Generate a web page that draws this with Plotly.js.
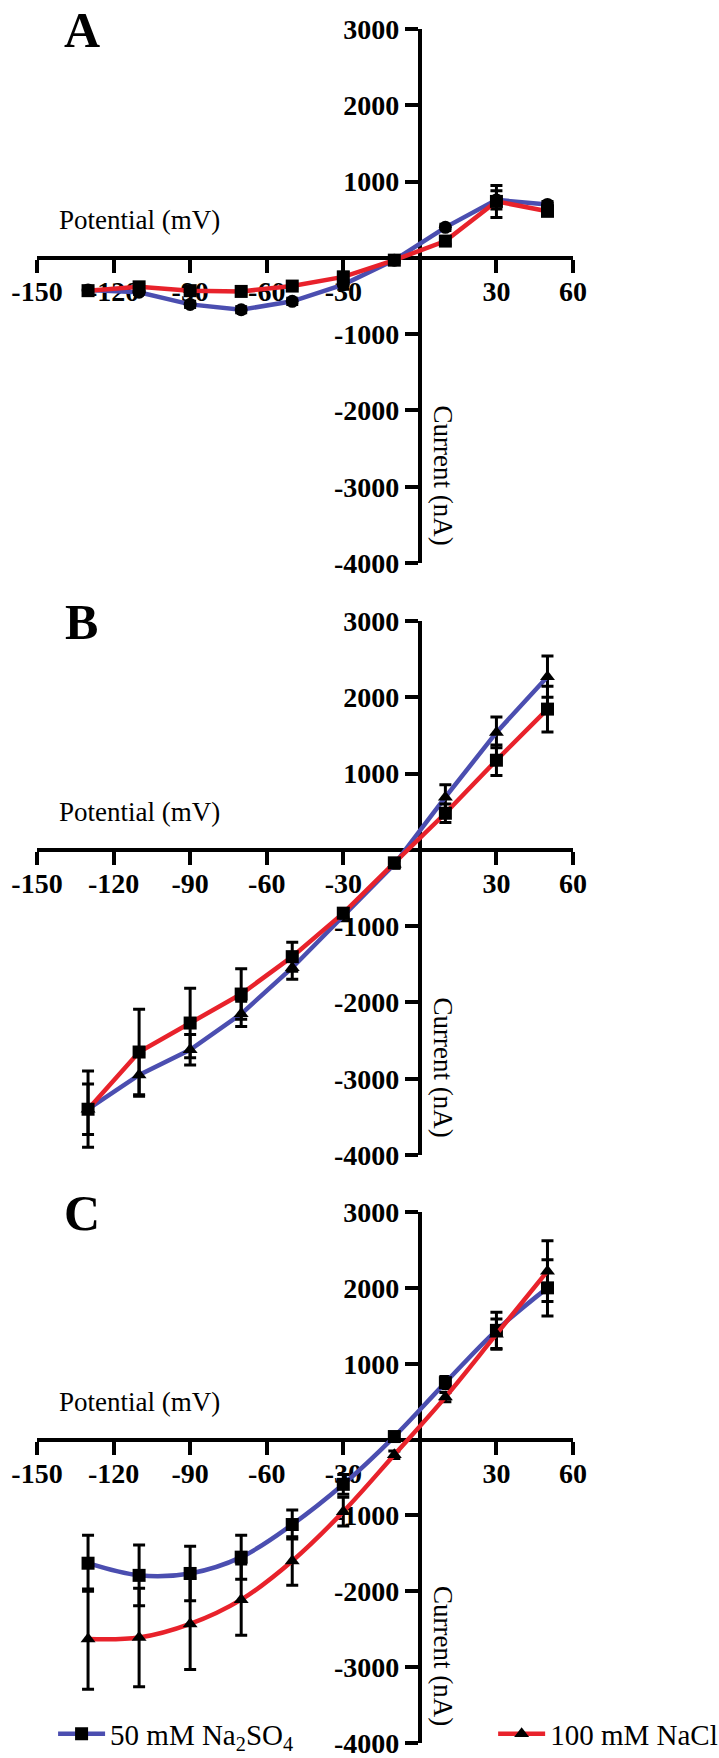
<!DOCTYPE html>
<html>
<head>
<meta charset="utf-8">
<script src="https://cdn.plot.ly/plotly-3.0.1.min.js"></script>
<style>html,body{margin:0;padding:0;background:#fff;}#chart{width:719px;height:1758px;}</style>
</head>
<body>
<div id="chart"></div>
<script>
// ---- data ----
const potential = [-130, -110, -90, -70, -50, -30, -10, 10, 30, 50];

// Panel A
const aBlue    = [-420, -450, -610, -680, -570, -350, -30, 400, 760, 700];
const aBlueErr = [30, 30, 40, 40, 40, 60, 30, 40, 120, 40];
const aRed     = [-430, -380, -430, -440, -370, -250, -30, 220, 740, 610];
const aRedErr  = [30, 30, 30, 30, 30, 60, 30, 40, 210, 40];

// Panel B
const bBlue    = [-3400, -2950, -2620, -2150, -1545, -870, -190, 690, 1540, 2270];
const bBlueErr = [330, 280, 200, 165, 150, 60, 50, 165, 200, 270];
const bRed     = [-3400, -2650, -2270, -1890, -1400, -830, -170, 480, 1175, 1845];
const bRedErr  = [500, 560, 455, 330, 190, 60, 50, 120, 200, 300];

// Panel C
const cBlue    = [-1630, -1790, -1765, -1550, -1120, -590, 40, 750, 1440, 2000];
const cBlueErr = [370, 400, 360, 290, 190, 130, 50, 80, 240, 370];
const cRed     = [-2630, -2610, -2430, -2110, -1600, -950, -200, 560, 1390, 2220];
const cRedErr  = [660, 650, 600, 470, 320, 190, 50, 60, 200, 400];

const xTicks = [-150, -120, -90, -60, -30, 30, 60];
const yTicks = [3000, 2000, 1000, -1000, -2000, -3000, -4000];
const panelLetters = ['A', 'B', 'C'];
const legendNames = ['50 mM Na<sub>2</sub>SO<sub>4</sub>', '100 mM NaCl'];
const xTitle = 'Potential (mV)';
const yTitle = 'Current (nA)';

// ---- style ----
const BLUE = '#4b4eb0';
const RED = '#e8222b';
const SERIF = 'Liberation Serif, Times New Roman, serif';

function series(y, err, color, symbol, xa, ya, shape, extra) {
  return Object.assign({
    type: 'scatter', mode: 'lines+markers', x: potential, y: y,
    xaxis: xa, yaxis: ya, cliponaxis: false,
    line: {color: color, width: 4.5, shape: shape || 'linear', smoothing: 1},
    marker: {color: '#000', size: 13, symbol: symbol},
    error_y: {type: 'data', array: err, visible: true, color: '#000', thickness: 3, width: 6},
    showlegend: false
  }, extra || {});
}

const traces = [
  series(aBlue, aBlueErr, BLUE, 'circle', 'x', 'y'),
  series(aRed, aRedErr, RED, 'square', 'x', 'y'),
  series(bBlue, bBlueErr, BLUE, 'triangle-up', 'x2', 'y2'),
  series(bRed, bRedErr, RED, 'square', 'x2', 'y2'),
  series(cBlue, cBlueErr, BLUE, 'square', 'x3', 'y3', 'spline', {name: legendNames[0], showlegend: true, legend: 'legend'}),
  series(cRed, cRedErr, RED, 'triangle-up', 'x3', 'y3', 'spline', {name: legendNames[1], showlegend: true, legend: 'legend2'})
];

const H = 1758, T = 29, B = 15;
const plotH = H - T - B;
const pix = p => (H - B - p) / plotH;           // page y (px) -> paper fraction
const panelPx = [[29, 563], [621, 1155], [1212, 1743]];
const domains = panelPx.map(p => [Math.max(0, pix(p[1])), Math.min(1, pix(p[0]))]);
const xPos = domains.map(d => d[0] + (d[1] - d[0]) * 4 / 7);
const legY = pix(1734);

function xax(i) {
  return {
    range: [-150, 60], anchor: 'free', position: xPos[i], domain: [0, 1],
    showline: true, linewidth: 4.5, linecolor: '#000', mirror: false,
    showgrid: false, zeroline: false,
    ticks: 'outside', ticklen: 13, tickwidth: 4, tickcolor: '#000',
    tickmode: 'array', tickvals: xTicks, ticktext: xTicks.map(String),
    tickfont: {family: SERIF, size: 28, color: '#000', weight: 'bold'},
    ticklabelstandoff: -6, ticklabeloverflow: 'allow', automargin: false,
    layer: 'below traces', fixedrange: true
  };
}
function yax(i) {
  return {
    range: [-4000, 3000], anchor: 'free', position: 150 / 210, domain: domains[i],
    showline: true, linewidth: 4.5, linecolor: '#000',
    showgrid: false, zeroline: false,
    ticks: 'outside', ticklen: 13, tickwidth: 4, tickcolor: '#000',
    tickmode: 'array', tickvals: yTicks, ticktext: yTicks.map(String),
    tickfont: {family: SERIF, size: 28, color: '#000', weight: 'bold'},
    ticklabeloverflow: 'allow', automargin: false,
    layer: 'below traces', fixedrange: true
  };
}

const annotations = [];
['', '2', '3'].forEach((s, i) => {
  annotations.push({xref: 'x' + s, yref: 'y' + s, x: -110, y: 500, text: xTitle, showarrow: false,
    font: {family: SERIF, size: 27, color: '#000'}});
  annotations.push({xref: 'x' + s, yref: 'y' + s, x: 9, y: -2850, text: yTitle, showarrow: false, textangle: 90,
    font: {family: SERIF, size: 27, color: '#000'}});
  annotations.push({xref: 'x' + s, yref: 'y' + s, x: -132.5, y: 2990, text: '<b>' + panelLetters[i] + '</b>', showarrow: false,
    font: {family: SERIF, size: 50, color: '#000'}});
});

const layout = {
  width: 719, height: H,
  margin: {l: 37, r: 146, t: T, b: B, autoexpand: false},
  paper_bgcolor: '#fff', plot_bgcolor: 'rgba(0,0,0,0)',
  font: {family: SERIF, color: '#000'},
  xaxis: xax(0), yaxis: yax(0),
  xaxis2: xax(1), yaxis2: yax(1),
  xaxis3: xax(2), yaxis3: yax(2),
  annotations: annotations,
  legend: {x: 0.030, y: legY, xanchor: 'left', yanchor: 'middle', bgcolor: 'rgba(0,0,0,0)',
    font: {family: SERIF, size: 29, color: '#000'}, itemwidth: 47},
  legend2: {x: 0.851, y: legY, xanchor: 'left', yanchor: 'middle', bgcolor: 'rgba(0,0,0,0)',
    font: {family: SERIF, size: 29, color: '#000'}, itemwidth: 47},
  showlegend: true
};

Plotly.newPlot('chart', traces, layout, {displayModeBar: false, staticPlot: true});
</script>
</body>
</html>
